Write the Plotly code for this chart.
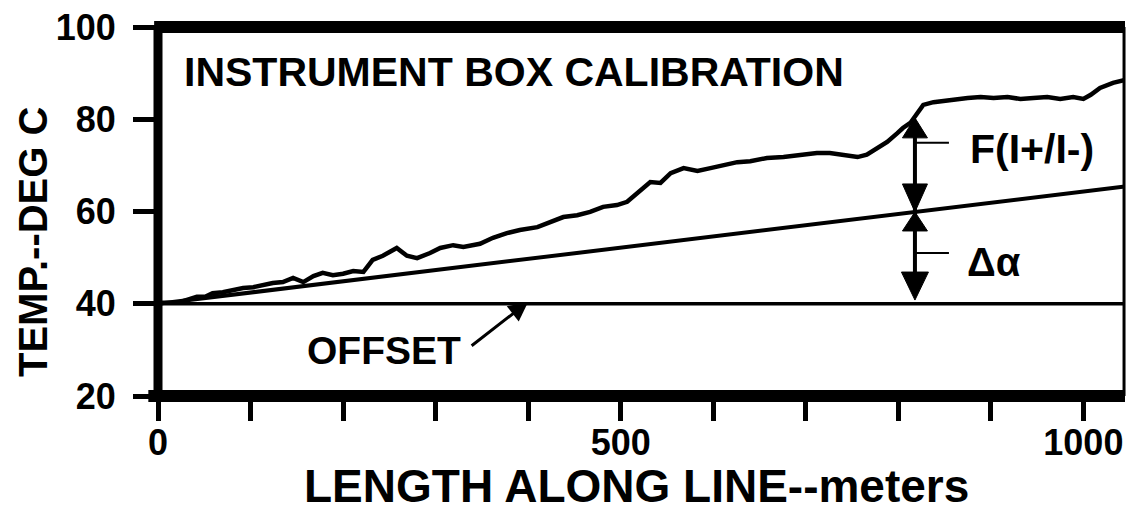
import plotly.graph_objects as go

# ---------------- data ----------------
length_m = [0, 5, 21, 31, 42, 51, 59, 70, 81, 92, 103, 114, 124, 135, 146, 157,
            168, 178, 189, 200, 211, 222, 232, 243, 258, 269, 280, 294, 305, 319,
            330, 348, 362, 377, 391, 410, 424, 438, 453, 467, 481, 496, 507, 518,
            532, 543, 554, 568, 583, 597, 611, 626, 640, 658, 676, 694, 712, 726,
            741, 756, 766, 777, 788, 799, 805, 813, 821, 827, 838, 856, 875, 889,
            903, 918, 932, 946, 961, 975, 989, 1000, 1008, 1018, 1032, 1045]
temp_c = [40.0, 40.2, 40.2, 40.8, 41.5, 41.5, 42.3, 42.5, 43.0, 43.4, 43.6, 44.1,
          44.5, 44.7, 45.6, 44.7, 46.0, 46.7, 46.2, 46.5, 47.1, 46.9, 49.5, 50.4,
          52.1, 50.4, 49.9, 51.0, 52.1, 52.7, 52.3, 53.0, 54.3, 55.3, 56.0, 56.6,
          57.7, 58.8, 59.2, 59.9, 61.0, 61.4, 62.1, 64.0, 66.4, 66.2, 68.3, 69.4,
          68.8, 69.4, 70.1, 70.7, 70.9, 71.6, 71.8, 72.3, 72.7, 72.7, 72.3, 71.8,
          72.3, 73.8, 75.1, 77.0, 78.1, 79.2, 81.6, 83.1, 83.7, 84.2, 84.6, 84.8,
          84.6, 84.8, 84.4, 84.6, 84.8, 84.4, 84.8, 84.4, 85.3, 86.8, 87.9, 88.5]

alpha_x = [0, 1045]          # calibration (delta alpha) line
alpha_y = [40, 65.4]
offset_x = [0, 1045]         # offset line
offset_y = [40, 40]

x_tick_vals = [0, 100, 200, 300, 400, 500, 600, 700, 800, 900, 1000]
x_tick_text = ["0", "", "", "", "", "500", "", "", "", "", "1000"]
y_tick_vals = [20, 40, 60, 80, 100]
y_tick_text = ["20", "40", "60", "80", "100"]

# ---------------- layout geometry ----------------
W, H = 1128, 514
ML, MR, MT, MB = 158, 3, 27, 118
X_RANGE = [0, 1045]
Y_RANGE = [20, 100]
plot_w = W - ML - MR
plot_h = H - MT - MB
px_per_x = plot_w / (X_RANGE[1] - X_RANGE[0])
px_per_y = plot_h / (Y_RANGE[1] - Y_RANGE[0])


def dx(px):
    return px / px_per_x


def dy(px):
    return px / px_per_y


FONT = "Liberation Sans, Arial, sans-serif"
BLACK = "#000000"

fig = go.Figure()
fig.add_trace(go.Scatter(x=offset_x, y=offset_y, mode="lines",
                         line=dict(color=BLACK, width=3.5), hoverinfo="skip"))
fig.add_trace(go.Scatter(x=alpha_x, y=alpha_y, mode="lines",
                         line=dict(color=BLACK, width=4), hoverinfo="skip"))
fig.add_trace(go.Scatter(x=length_m, y=temp_c, mode="lines",
                         line=dict(color=BLACK, width=4.5), hoverinfo="skip"))

shapes = []
# frame
shapes.append(dict(type="line", xref="paper", yref="paper", x0=0, x1=0, y0=-0.005, y1=1.005,
                   line=dict(color=BLACK, width=9)))
shapes.append(dict(type="line", xref="paper", yref="paper", x0=-0.01, x1=1, y0=0, y1=0,
                   line=dict(color=BLACK, width=12)))
shapes.append(dict(type="line", xref="paper", yref="paper", x0=-0.004, x1=1, y0=1, y1=1,
                   line=dict(color=BLACK, width=12)))
shapes.append(dict(type="line", xref="paper", yref="paper", x0=0.999, x1=0.999, y0=0, y1=1,
                   line=dict(color=BLACK, width=3)))

# dimension arrows
AX = 818
F_TOP, MID, A_BOT = 80.3, 59.9, 40.8
shapes.append(dict(type="line", xref="x", yref="y", x0=AX, x1=AX, y0=A_BOT + dy(10), y1=F_TOP - dy(10),
                   line=dict(color=BLACK, width=4)))


def tri(tip_y, up, length_px, width_px):
    hw = dx(width_px / 2)
    base = tip_y - dy(length_px) if up else tip_y + dy(length_px)
    return dict(type="path", xref="x", yref="y",
                path=f"M {AX - hw},{base} L {AX + hw},{base} L {AX},{tip_y} Z",
                fillcolor=BLACK, line=dict(color=BLACK, width=1))


shapes.append(tri(F_TOP, True, 20, 25))
shapes.append(tri(MID, False, 28, 25))
shapes.append(tri(MID, True, 19, 25))
shapes.append(tri(A_BOT, False, 28, 27))
for ly in (74.9, 51.0):
    shapes.append(dict(type="line", xref="x", yref="y", x0=AX, x1=AX + dx(34), y0=ly, y1=ly,
                       line=dict(color=BLACK, width=2)))

annotations = [
    dict(text="INSTRUMENT BOX CALIBRATION", x=26, y=90.2, xref="x", yref="y",
         xanchor="left", yanchor="middle", showarrow=False,
         font=dict(family=FONT, size=41, color=BLACK, weight="bold")),
    dict(text="F(I+/I-)", x=875, y=73.6, xref="x", yref="y",
         xanchor="left", yanchor="middle", showarrow=False,
         font=dict(family=FONT, size=41, color=BLACK, weight="bold")),
    dict(text="Δα", x=872, y=49, xref="x", yref="y",
         xanchor="left", yanchor="middle", showarrow=False,
         font=dict(family=FONT, size=40, color=BLACK, weight="bold")),
    dict(text="OFFSET", x=159, y=29.8, xref="x", yref="y",
         xanchor="left", yanchor="middle", showarrow=False,
         font=dict(family=FONT, size=39, color=BLACK, weight="bold")),
    dict(text="", x=400, y=40.4, xref="x", yref="y", ax=-58, ay=45,
         showarrow=True, arrowhead=2, arrowsize=1.3, arrowwidth=3, arrowcolor=BLACK,
         standoff=0, startstandoff=0),
    dict(text="TEMP.--DEG C", x=(33 - ML) / plot_w, y=0.5 - (242 - (MT + plot_h / 2)) / plot_h,
         xref="paper", yref="paper", textangle=-90, xanchor="center", yanchor="middle",
         showarrow=False, font=dict(family=FONT, size=40, color=BLACK, weight="bold")),
    dict(text="LENGTH ALONG LINE--meters", x=(636 - ML) / plot_w, y=-(486 - (MT + plot_h)) / plot_h,
         xref="paper", yref="paper", xanchor="center", yanchor="middle",
         showarrow=False, font=dict(family=FONT, size=46, color=BLACK, weight="bold")),
]

fig.update_layout(
    width=W, height=H, autosize=False,
    margin=dict(l=ML, r=MR, t=MT, b=MB, pad=0),
    paper_bgcolor="white", plot_bgcolor="white",
    showlegend=False,
    shapes=shapes, annotations=annotations,
    xaxis=dict(range=X_RANGE, showgrid=False, zeroline=False, showline=False,
               tickmode="array", tickvals=x_tick_vals, ticktext=x_tick_text,
               ticks="outside", ticklen=24, tickwidth=5, tickcolor=BLACK,
               tickfont=dict(family=FONT, size=36, color=BLACK, weight="bold"),
               ticklabelstandoff=-9),
    yaxis=dict(range=Y_RANGE, showgrid=False, zeroline=False, showline=False,
               tickmode="array", tickvals=y_tick_vals, ticktext=y_tick_text,
               ticks="outside", ticklen=24, tickwidth=5, tickcolor=BLACK,
               tickfont=dict(family=FONT, size=36, color=BLACK, weight="bold"),
               ticklabelstandoff=10),
)

fig.write_html("out.html", config={"displayModeBar": False},
               post_script="document.body.style.margin='0';document.body.style.padding='0';"
                           "document.documentElement.style.overflow='hidden';")
